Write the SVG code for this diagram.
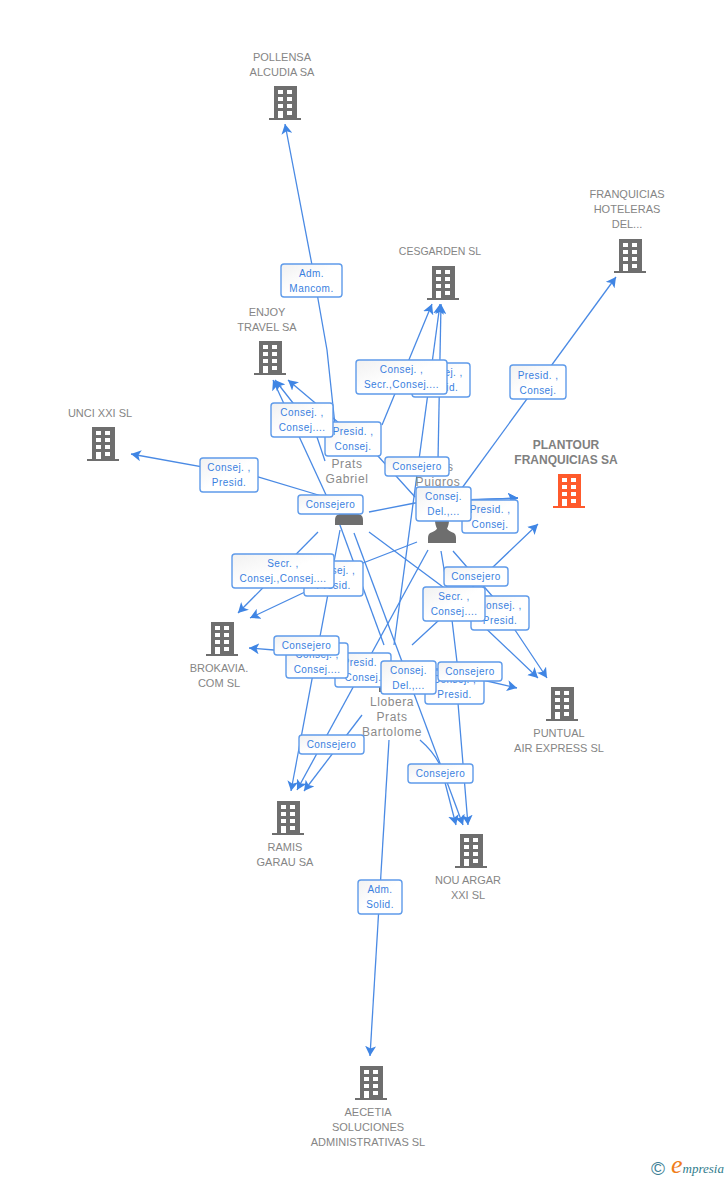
<svg xmlns="http://www.w3.org/2000/svg" xmlns:xlink="http://www.w3.org/1999/xlink" width="728" height="1180" viewBox="0 0 728 1180">
<style>
text{font-family:"Liberation Sans",Arial,sans-serif;text-anchor:middle}
.n{font-size:11px;fill:#858585}
.p{font-size:12px;fill:#8a8a8a;letter-spacing:.6px}
.b{font-size:12px;font-weight:bold;fill:#808080}
.l{font-size:10px;fill:#3a7fe0;letter-spacing:.45px}
.bx{fill:url(#g);stroke:#5f9bea;stroke-width:1.4}
#edges path{fill:none;stroke:#4a8ae4;stroke-width:1.3;marker-end:url(#a)}
#edges path.o{marker-end:none}
</style>
<defs>
<linearGradient id="g" x1="0" y1="0" x2="1" y2="1"><stop offset="0" stop-color="#f1f1f1"/><stop offset=".5" stop-color="#fff"/></linearGradient>
<marker id="a" viewBox="-10 -5.500 10 11" refX="0" refY="0" markerWidth="10" markerHeight="11" markerUnits="userSpaceOnUse" orient="auto"><path d="M0,0L-10,-5.500L-7.500,0L-10,5.500Z" fill="#3f85e4"/></marker>
<symbol id="bld" width="32" height="35" viewBox="0 0 32 35"><path fill="currentColor" d="M5,0H28V32H32V34H0V32H5ZM9,4V8H14V4ZM18,4V8H23V4ZM9,11V15H14V11ZM18,11V15H23V11ZM9,18V22H14V18ZM18,18V22H23V18ZM9,25V32H14V25ZM18,25V29H23V25Z" fill-rule="evenodd"/></symbol>
<symbol id="per" width="28" height="30" viewBox="0 0 28 36" preserveAspectRatio="none"><path fill="#6e6e6e" d="M14,0C19,0 21,4 21,9C21,13 20,16 19,19C20,21 22,22 24,23C27,24 28,26 28,30V36H0V30C0,26 1,24 4,23C6,22 8,21 9,19C8,16 7,13 7,9C7,4 9,0 14,0Z"/></symbol>
</defs>
<rect width="728" height="1180" fill="#fff"/>
<g id="edges">
<path d="M335,425L327,350L312,265L285,124"/>
<path d="M462,488L616,277"/>
<path d="M382,425L432,304"/>
<path d="M394,645L440,304"/>
<path d="M438,460L441,304"/>
<path d="M327,497L273,380"/>
<path d="M325,461L317,437L293,403L275,380"/>
<path d="M415,497L378,456L288,380"/>
<path d="M325,497L258,477L131,454"/>
<path d="M318,532L238,613"/>
<path d="M417,542L363,563L305,592L250,618"/>
<path d="M363,662L338,654L274,650L249,648"/>
<path d="M340,530L291,791"/>
<path d="M428,550L297,790"/>
<path d="M362,715L304,791"/>
<path d="M420,740Q434,752 441,767L456,825"/>
<path d="M354,533L463,825"/>
<path d="M441,551L447,587L452,620L457,662L458,703L468,825"/>
<path class="o" d="M337,517L384,645"/>
<path d="M369,532L443,587L477,620L538,678"/>
<path d="M453,551L493,597L515,630L547,678"/>
<path d="M422,669L438,669L487,681L517,688"/>
<path d="M412,645L438,621L493,567L538,524"/>
<path d="M369,512L415,503L472,500L518,498"/>
<path d="M460,500L518,498"/>
<path d="M389,740L370,1056"/>
</g>
<g id="pollensa" style="color:#6e6e6e"><text class="n" x="282" y="61">POLLENSA</text><text class="n" x="282" y="76">ALCUDIA SA</text><use href="#bld" x="269" y="86"/></g>
<g id="franquicias" style="color:#6e6e6e"><text class="n" x="627" y="198">FRANQUICIAS</text><text class="n" x="627" y="213">HOTELERAS</text><text class="n" x="627" y="228">DEL...</text><use href="#bld" x="614" y="239"/></g>
<g id="cesgarden" style="color:#6e6e6e"><text class="n" x="440" y="255" style="font-size:10.500px">CESGARDEN SL</text><use href="#bld" x="427" y="266"/></g>
<g id="enjoy" style="color:#6e6e6e"><text class="n" x="267" y="316">ENJOY</text><text class="n" x="267" y="331">TRAVEL SA</text><use href="#bld" x="254" y="341"/></g>
<g id="unci" style="color:#6e6e6e"><text class="n" x="100" y="417">UNCI XXI SL</text><use href="#bld" x="87" y="427"/></g>
<g id="plantour" style="color:#ff5a2c"><text class="b" x="566" y="449">PLANTOUR</text><text class="b" x="566" y="464">FRANQUICIAS SA</text><use href="#bld" x="553" y="474"/></g>
<g id="brokavia" style="color:#6e6e6e"><text class="n" x="219" y="672">BROKAVIA.</text><text class="n" x="219" y="687">COM SL</text><use href="#bld" x="206" y="622"/></g>
<g id="puntual" style="color:#6e6e6e"><text class="n" x="559" y="737">PUNTUAL</text><text class="n" x="559" y="752">AIR EXPRESS SL</text><use href="#bld" x="546" y="687"/></g>
<g id="ramis" style="color:#6e6e6e"><text class="n" x="285" y="851">RAMIS</text><text class="n" x="285" y="866">GARAU SA</text><use href="#bld" x="272" y="801"/></g>
<g id="nouargar" style="color:#6e6e6e"><text class="n" x="468" y="884">NOU ARGAR</text><text class="n" x="468" y="899">XXI SL</text><use href="#bld" x="455" y="834"/></g>
<g id="aecetia" style="color:#6e6e6e"><text class="n" x="368" y="1116">AECETIA</text><text class="n" x="368" y="1131">SOLUCIONES</text><text class="n" x="368" y="1146">ADMINISTRATIVAS SL</text><use href="#bld" x="355" y="1066"/></g>
<g id="prats-gabriel"><text class="p" x="347" y="468">Prats</text><text class="p" x="347" y="483">Gabriel</text><use href="#per" x="335" y="495"/></g>
<g id="puigros"><text class="p" x="438" y="471">Prats</text><text class="p" x="438" y="486">Puigros</text><use href="#per" x="428" y="513"/></g>
<g id="llobera"><text class="p" x="392" y="706">Llobera</text><text class="p" x="392" y="721">Prats</text><text class="p" x="392" y="736">Bartolome</text><use href="#per" x="379" y="662"/></g>
<g id="edge-labels">
<g><rect class="bx" x="281" y="264" width="61" height="33" rx="3"/><text class="l" x="311.500" y="277">Adm.</text><text class="l" x="311.500" y="292">Mancom.</text></g>
<g><rect class="bx" x="412" y="363" width="58" height="34" rx="3"/><text class="l" x="441" y="376">Consej. ,</text><text class="l" x="441" y="391">Presid.</text></g>
<g><rect class="bx" x="356" y="360" width="91" height="34" rx="3"/><text class="l" x="401.500" y="373">Consej. ,</text><text class="l" x="401.500" y="388">Secr.,Consej....</text></g>
<g><rect class="bx" x="510" y="365" width="56" height="34" rx="3"/><text class="l" x="538" y="379">Presid. ,</text><text class="l" x="538" y="394">Consej.</text></g>
<g><rect class="bx" x="325" y="422" width="56" height="34" rx="3"/><text class="l" x="353" y="435">Presid. ,</text><text class="l" x="353" y="450">Consej.</text></g>
<g><rect class="bx" x="271" y="403" width="62" height="34" rx="3"/><text class="l" x="302" y="416">Consej. ,</text><text class="l" x="302" y="431">Consej....</text></g>
<g><rect class="bx" x="200" y="458" width="58" height="34" rx="3"/><text class="l" x="229" y="471">Consej. ,</text><text class="l" x="229" y="486">Presid.</text></g>
<g><rect class="bx" x="385" y="457" width="64" height="19" rx="3"/><text class="l" x="417" y="470">Consejero</text></g>
<g><rect class="bx" x="298" y="495" width="65" height="19" rx="3"/><text class="l" x="330.500" y="508">Consejero</text></g>
<g><rect class="bx" x="462" y="500" width="56" height="33" rx="3"/><text class="l" x="490" y="513">Presid. ,</text><text class="l" x="490" y="528">Consej.</text></g>
<g><rect class="bx" x="416" y="487" width="55" height="34" rx="3"/><text class="l" x="443.500" y="500">Consej.</text><text class="l" x="443.500" y="515">Del.,...</text></g>
<g><rect class="bx" x="304" y="561" width="59" height="35" rx="3"/><text class="l" x="333.500" y="574">Consej. ,</text><text class="l" x="333.500" y="589">Presid.</text></g>
<g><rect class="bx" x="232" y="554" width="102" height="34" rx="3"/><text class="l" x="283" y="567">Secr. ,</text><text class="l" x="283" y="582">Consej.,Consej....</text></g>
<g><rect class="bx" x="444" y="567" width="64" height="19" rx="3"/><text class="l" x="476" y="580">Consejero</text></g>
<g><rect class="bx" x="471" y="596" width="58" height="34" rx="3"/><text class="l" x="500" y="609">Consej. ,</text><text class="l" x="500" y="624">Presid.</text></g>
<g><rect class="bx" x="423" y="587" width="62" height="34" rx="3"/><text class="l" x="454" y="600">Secr. ,</text><text class="l" x="454" y="615">Consej....</text></g>
<g><rect class="bx" x="335" y="653" width="56" height="34" rx="3"/><text class="l" x="363" y="666">Presid. ,</text><text class="l" x="363" y="681">Consej.</text></g>
<g><rect class="bx" x="286" y="643" width="62" height="35" rx="3"/><text class="l" x="317" y="658">Consej. ,</text><text class="l" x="317" y="673">Consej....</text></g>
<g><rect class="bx" x="274" y="636" width="65" height="19" rx="3"/><text class="l" x="306.500" y="649">Consejero</text></g>
<g><rect class="bx" x="425" y="670" width="59" height="34" rx="3"/><text class="l" x="454.500" y="683">Consej. ,</text><text class="l" x="454.500" y="698">Presid.</text></g>
<g><rect class="bx" x="381" y="661" width="55" height="33" rx="3"/><text class="l" x="408.500" y="674">Consej.</text><text class="l" x="408.500" y="689">Del.,...</text></g>
<g><rect class="bx" x="438" y="662" width="64" height="19" rx="3"/><text class="l" x="470" y="675">Consejero</text></g>
<g><rect class="bx" x="299" y="735" width="65" height="19" rx="3"/><text class="l" x="331.500" y="748">Consejero</text></g>
<g><rect class="bx" x="408" y="764" width="65" height="19" rx="3"/><text class="l" x="440.500" y="777">Consejero</text></g>
<g><rect class="bx" x="358" y="880" width="44" height="34" rx="3"/><text class="l" x="380" y="893">Adm.</text><text class="l" x="380" y="908">Solid.</text></g>
</g>
<g id="logo"><text x="658" y="1175" style="font-size:19px;fill:#3d7f96">©</text><text x="671" y="1173" style="font-family:'Liberation Serif',serif;font-size:13px;font-style:italic;fill:#2f7c8c;text-anchor:start"><tspan style="font-size:26px;fill:#f07d1a">e</tspan>mpresia</text></g>
</svg>
